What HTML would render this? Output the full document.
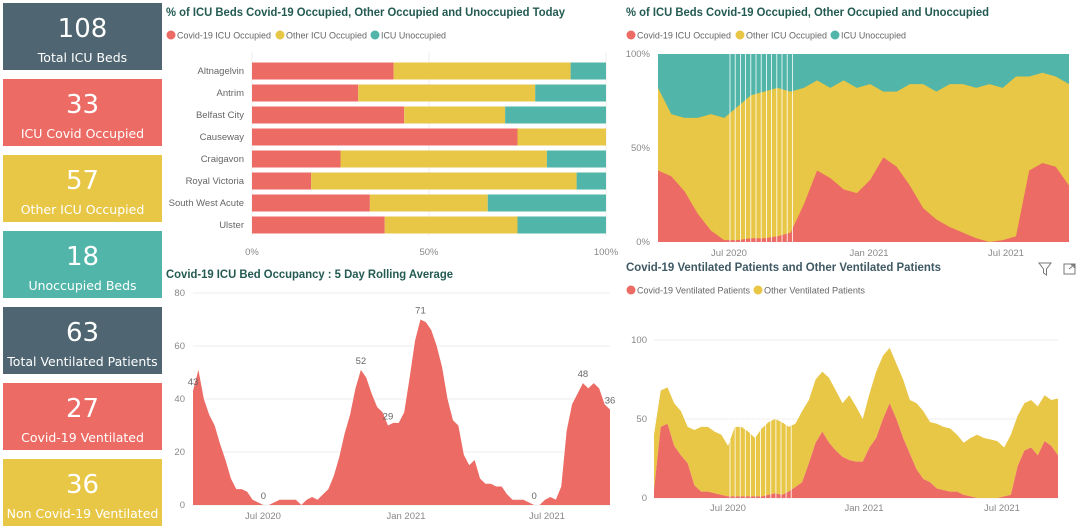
<!DOCTYPE html>
<html><head><meta charset="utf-8">
<style>
html,body{margin:0;padding:0;background:#fff;width:1080px;height:527px;overflow:hidden}
svg{display:block;font-family:"Liberation Sans",sans-serif}
.card{position:absolute;left:3px;width:159px;height:67px;color:#fff;text-align:center;font-family:"DejaVu Sans","Liberation Sans",sans-serif}
.card .n{font-size:26px;line-height:26px;margin-top:13px}
.card .l{font-size:12.5px;line-height:14px;margin-top:9px;white-space:nowrap}
</style></head>
<body>
<div class="card" style="top:3px;background:#4f6672"><div class="n">108</div><div class="l">Total ICU Beds</div></div>
<div class="card" style="top:79px;background:#ec6b64"><div class="n">33</div><div class="l">ICU Covid Occupied</div></div>
<div class="card" style="top:155px;background:#e8c646"><div class="n">57</div><div class="l">Other ICU Occupied</div></div>
<div class="card" style="top:231px;background:#52b5a9"><div class="n">18</div><div class="l">Unoccupied Beds</div></div>
<div class="card" style="top:307px;background:#4f6672"><div class="n">63</div><div class="l">Total Ventilated Patients</div></div>
<div class="card" style="top:383px;background:#ec6b64"><div class="n">27</div><div class="l">Covid-19 Ventilated</div></div>
<div class="card" style="top:459px;background:#e8c646"><div class="n">36</div><div class="l">Non Covid-19 Ventilated</div></div>

<svg id="main" width="1080" height="527" style="position:absolute;left:0;top:0;pointer-events:none">
<g font-family="'Liberation Sans',sans-serif" font-weight="bold" font-size="12">
<text x="166" y="16" textLength="399" lengthAdjust="spacingAndGlyphs" fill="#235a52">% of ICU Beds Covid-19 Occupied, Other Occupied and Unoccupied Today</text>
<text x="626" y="16" textLength="363" lengthAdjust="spacingAndGlyphs" fill="#235a52">% of ICU Beds Covid-19 Occupied, Other Occupied and Unoccupied</text>
<text x="166" y="278" textLength="287" lengthAdjust="spacingAndGlyphs" fill="#235a52">Covid-19 ICU Bed Occupancy : 5 Day Rolling Average</text>
<text x="626" y="271" textLength="315" lengthAdjust="spacingAndGlyphs" fill="#3f5964">Covid-19 Ventilated Patients and Other Ventilated Patients</text>
</g>
<g font-size="9.5" fill="#666" font-family="'Liberation Sans',sans-serif">
<g>
<circle cx="171" cy="35" r="4.5" fill="#ec6b64"/><text x="177" y="38.5" textLength="94" lengthAdjust="spacingAndGlyphs">Covid-19 ICU Occupied</text>
<circle cx="280" cy="35" r="4.5" fill="#e8c646"/><text x="286" y="38.5" textLength="81" lengthAdjust="spacingAndGlyphs">Other ICU Occupied</text>
<circle cx="375" cy="35" r="4.5" fill="#52b5a9"/><text x="381" y="38.5" textLength="65" lengthAdjust="spacingAndGlyphs">ICU Unoccupied</text>
</g>
<g>
<circle cx="631" cy="35" r="4.5" fill="#ec6b64"/><text x="637" y="38.5" textLength="94" lengthAdjust="spacingAndGlyphs">Covid-19 ICU Occupied</text>
<circle cx="740" cy="35" r="4.5" fill="#e8c646"/><text x="746" y="38.5" textLength="81" lengthAdjust="spacingAndGlyphs">Other ICU Occupied</text>
<circle cx="835" cy="35" r="4.5" fill="#52b5a9"/><text x="841" y="38.5" textLength="65" lengthAdjust="spacingAndGlyphs">ICU Unoccupied</text>
</g>
<g>
<circle cx="631" cy="290" r="4.5" fill="#ec6b64"/><text x="637" y="293.5" textLength="113" lengthAdjust="spacingAndGlyphs">Covid-19 Ventilated Patients</text>
<circle cx="758" cy="290" r="4.5" fill="#e8c646"/><text x="764" y="293.5" textLength="101" lengthAdjust="spacingAndGlyphs">Other Ventilated Patients</text>
</g>
</g>
<g stroke="#777" fill="none" stroke-width="1">
<path d="M1039 263 L1051 263 L1046.5 269 L1046.5 275 L1043.5 273 L1043.5 269 Z"/>
<path d="M1064 264 L1064 274 L1075 274 L1075 264 Z M1069 269 L1074 265 M1071 265 L1074 265 L1074 268"/>
</g>
<g id="bars"></g>
<g id="pct"></g>
<g id="roll"></g>
<g id="vent"></g>
</svg>

<script>
// ===== Bar chart data =====
const hospitals = ["Altnagelvin","Antrim","Belfast City","Causeway","Craigavon","Royal Victoria","South West Acute","Ulster"];
const covidPct = [40,30,43,75,25,16.7,33.3,37.5];
const otherPct = [50,50,28.5,25,58.3,75,33.3,37.5];
const barTicks = [0,50,100];

// ===== % over time data =====
const pctCovid = [38,35,27,15,6,1,1,2,2,3,5,20,38,34,28,26,33,45,40,30,18,12,8,5,2,0,1,3,38,42,40,30];
const pctOccupied = [82,68,66,66,68,66,72,78,80,82,80,82,86,82,86,82,84,80,80,84,84,80,84,84,82,84,82,88,88,90,88,84];
const pctTicks = [0,50,100];

// ===== rolling average data =====
const rollValues = [43,51,40,34,30,23,17,10,6,6,5,2,1,0,0,1,2,2,2,2,0,2,3,2,4,6,11,18,27,34,44,51,48,42,37,35,30,31,31,35,48,62,70,69,66,60,52,40,32,30,19,15,17,10,8,8,7,7,4,2,2,2,1,0,0,2,3,2,7,28,38,42,46,44,46,44,38,36];
const rollLabelIdx = [0,13,31,36,42,63,72,77];
const rollLabelText = ["43","0","52","29","71","0","48","36"];
const rollTicks = [0,20,40,60,80];

// ===== ventilated data =====
const ventCovid = [5,45,47,33,27,22,8,4,4,3,2,1,1,1,1,1,1,2,3,2,4,7,10,22,35,42,35,30,26,24,23,23,32,38,50,60,50,38,28,18,12,10,6,5,4,4,2,1,0,0,0,0,1,2,20,30,32,27,36,33,27];
const ventTotal = [40,68,70,60,55,45,43,45,45,42,40,33,45,45,42,38,44,48,50,48,45,47,55,62,75,80,76,68,60,65,58,50,66,80,90,95,85,75,62,60,55,48,47,45,44,40,35,38,40,38,37,36,32,40,52,60,62,58,65,62,63];
const ventOther = ventTotal.map((t,i)=>t-ventCovid[i]);
const ventTicks = [0,50,100];

const timeTicks = ["Jul 2020","Jan 2021","Jul 2021"];

const NS = "http://www.w3.org/2000/svg";
function mk(tag, attrs, parent){const e=document.createElementNS(NS,tag);for(const k in attrs)e.setAttribute(k,attrs[k]);parent.appendChild(e);return e;}
const FONT="'Liberation Sans',sans-serif";

// ---- Bar chart ----
(function(){
  const g=document.getElementById('bars');
  const x0=252,x1=606,yTop=62,rowH=22,bh=17;
  const xs=v=>x0+(x1-x0)*v/100;
  barTicks.forEach(t=>{
    const l=mk('line',{x1:xs(t),x2:xs(t),y1:52,y2:236,stroke:'#eee'},g);
    
    
    const tx=mk('text',{x:xs(t),y:255,'font-size':9.5,fill:'#888','text-anchor':'middle','font-family':FONT},g);
    tx.textContent=t+'%';
    
    
  });
  hospitals.forEach((h,i)=>{
    const yc=yTop+9+i*rowH;
    const lb=mk('text',{x:244,y:yc+3,'font-size':9.5,fill:'#666','text-anchor':'end','font-family':FONT},g);
    lb.textContent=h;
    
    
    const c=covidPct[i],o=otherPct[i];
    const r1=mk('rect',{x:xs(0),y:yc-bh/2,width:xs(c)-xs(0),height:bh,fill:'#ec6b64'},g);
    
    
    const r2=mk('rect',{x:xs(c),y:yc-bh/2,width:xs(c+o)-xs(c),height:bh,fill:'#e8c646'},g);
    
    
    const r3=mk('rect',{x:xs(c+o),y:yc-bh/2,width:Math.max(0,xs(100)-xs(c+o)),height:bh,fill:'#52b5a9'},g);
    
    
  });
})();

function areaPath(vals,xf,yf,base){
  let d='M'+xf(0)+' '+yf(base?base[0]:0);
  vals.forEach((v,i)=>{d+=' L'+xf(i)+' '+yf(v);});
  for(let i=vals.length-1;i>=0;i--) d+=' L'+xf(i)+' '+yf(base?base[i]:0);
  return d+'Z';
}
function timeAxis(g,pos,y,prefix){
  timeTicks.forEach((t,i)=>{
    const tx=mk('text',{x:pos[i],y:y,'font-size':9.5,fill:'#888','text-anchor':'middle','font-family':FONT},g);
    tx.textContent=t;
    
    
  });
}

// ---- % over time ----
(function(){
  const g=document.getElementById('pct');
  const x0=658,x1=1069,y0=242,y1=54;
  const xs=i=>x0+(x1-x0)*i/(pctCovid.length-1);
  const ys=v=>y0-(y0-y1)*v/100;
  const bg=mk('rect',{x:x0,y:y1,width:x1-x0,height:y0-y1,fill:'#52b5a9'},g);
  
  
  const a2=mk('path',{d:areaPath(pctOccupied,xs,ys),fill:'#e8c646'},g);
  
  
  const a1=mk('path',{d:areaPath(pctCovid,xs,ys),fill:'#ec6b64'},g);
  
  
  for(let k=0;k<13;k++){
    const l=mk('line',{x1:730+k*5.2,x2:730+k*5.2,y1:y1,y2:y0,stroke:'#fff','stroke-width':0.8},g);
    
    
  }
  pctTicks.forEach(t=>{
    const tx=mk('text',{x:650,y:ys(t)+3,'font-size':9.5,fill:'#888','text-anchor':'end','font-family':FONT},g);
    tx.textContent=t+'%';
    
    
  });
  timeAxis(g,[729,869,1006],256,'pct');
})();

// ---- rolling average ----
(function(){
  const g=document.getElementById('roll');
  const x0=193,x1=610,y0=505,y1=293;
  const xs=i=>x0+(x1-x0)*i/(rollValues.length-1);
  const ys=v=>y0-(y0-y1)*v/80;
  rollTicks.forEach(t=>{
    const l=mk('line',{x1:x0,x2:x1,y1:ys(t),y2:ys(t),stroke:'#eee'},g);
    
    
    const tx=mk('text',{x:185,y:ys(t)+3,'font-size':9.5,fill:'#888','text-anchor':'end','font-family':FONT},g);
    tx.textContent=t;
    
    
  });
  const a=mk('path',{d:areaPath(rollValues,xs,ys),fill:'#ec6b64'},g);
  
  
  rollLabelIdx.forEach((idx,k)=>{
    const tx=mk('text',{x:xs(idx),y:ys(rollValues[idx])-6,'font-size':9.5,fill:'#666','text-anchor':'middle','font-family':FONT},g);
    tx.textContent=rollLabelText[k];
    
    
  });
  timeAxis(g,[263,406,547],519,'roll');
})();

// ---- ventilated ----
(function(){
  const g=document.getElementById('vent');
  const x0=654,x1=1058,y0=498,y1=340;
  const xs=i=>x0+(x1-x0)*i/(ventCovid.length-1);
  const ys=v=>y0-(y0-y1)*v/100;
  ventTicks.forEach(t=>{
    const l=mk('line',{x1:x0,x2:x1,y1:ys(t),y2:ys(t),stroke:'#eee'},g);
    
    
    const tx=mk('text',{x:647,y:ys(t)+3,'font-size':9.5,fill:'#888','text-anchor':'end','font-family':FONT},g);
    tx.textContent=t;
    
    
  });
  const stackTop=ventOther.map((o,i)=>o+ventCovid[i]);
  const a2=mk('path',{d:areaPath(stackTop,xs,ys,ventCovid),fill:'#e8c646'},g);
  
  
  const a1=mk('path',{d:areaPath(ventCovid,xs,ys),fill:'#ec6b64'},g);
  
  
  for(let k=0;k<13;k++){
    const l=mk('line',{x1:730+k*5.1,x2:730+k*5.1,y1:y1+20,y2:y0,stroke:'#fff','stroke-width':0.8},g);
    
    
  }
  timeAxis(g,[728,864,1002],511,'vent');
})();
</script>
</body></html>
